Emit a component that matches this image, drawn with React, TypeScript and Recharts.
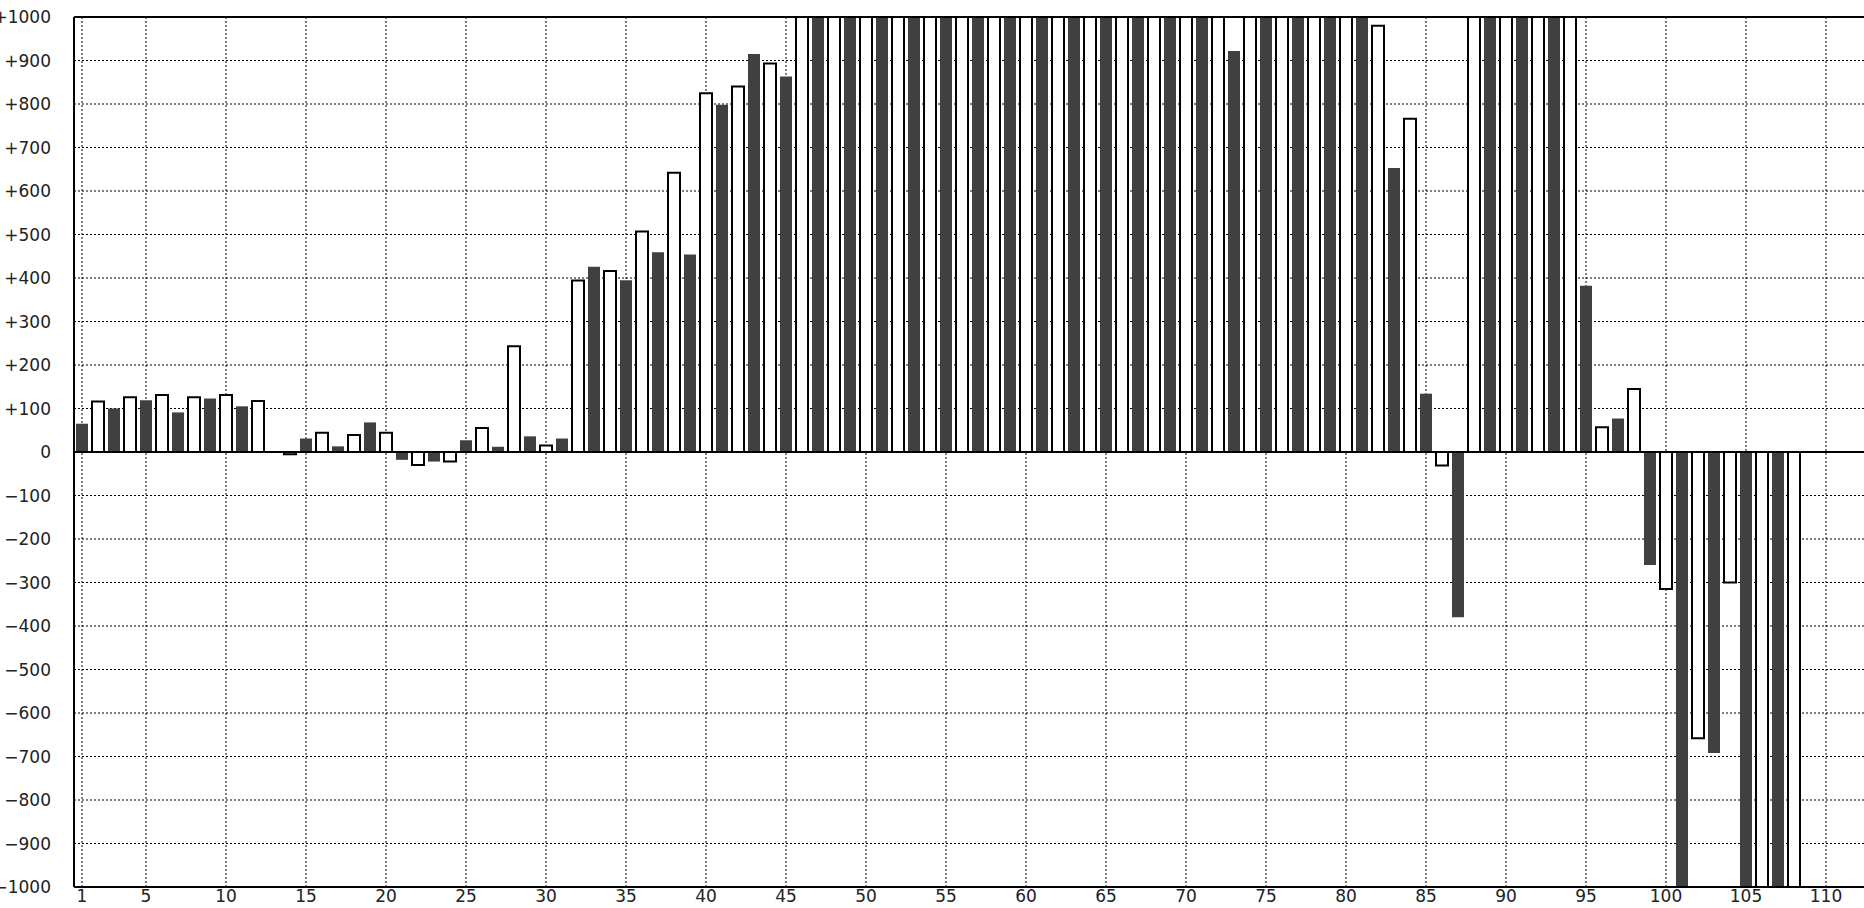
import React from 'react';
import { BarChart, Bar, Cell, XAxis, YAxis, CartesianGrid, ReferenceLine } from 'recharts';

// categories 1..112 (the last few are empty)
const categories = [
  1, 2, 3, 4, 5, 6, 7, 8, 9, 10, 11, 12, 13, 14, 15, 16, 17, 18, 19, 20,
  21, 22, 23, 24, 25, 26, 27, 28, 29, 30, 31, 32, 33, 34, 35, 36, 37, 38, 39, 40,
  41, 42, 43, 44, 45, 46, 47, 48, 49, 50, 51, 52, 53, 54, 55, 56, 57, 58, 59, 60,
  61, 62, 63, 64, 65, 66, 67, 68, 69, 70, 71, 72, 73, 74, 75, 76, 77, 78, 79, 80,
  81, 82, 83, 84, 85, 86, 87, 88, 89, 90, 91, 92, 93, 94, 95, 96, 97, 98, 99, 100,
  101, 102, 103, 104, 105, 106, 107, 108, 109, 110, 111, 112,
];

// values above +1000 / below -1000 run off the plot and are only estimates
const values: (number | null)[] = [
  65, 116, 100, 126, 119, 131, 91, 126, 123, 131, 105, 117, 0, -5, 31, 44, 13, 39, 68, 44,
  -18, -30, -22, -22, 27, 55, 12, 243, 36, 15, 31, 394, 426, 416, 395, 507, 459, 642, 454, 825,
  798, 840, 915, 893, 863, 1120, 1180, 1150, 1210, 1240, 1190, 1260, 1230, 1280, 1250, 1300, 1270, 1240, 1310, 1290,
  1260, 1230, 1270, 1300, 1250, 1220, 1180, 1200, 1150, 1130, 1160, 1090, 922, 1080, 1120, 1150, 1100, 1070, 1060, 1040,
  1030, 980, 653, 766, 134, -31, -380, 1100, 1150, 1180, 1200, 1160, 1120, 1080, 382, 57, 77, 145, -260, -315,
  -1080, -658, -692, -300, -1150, -1200, -1250, -1300, null, null, null, null,
];

const xTicks = [1, 5, 10, 15, 20, 25, 30, 35, 40, 45, 50, 55, 60, 65, 70, 75, 80, 85, 90, 95, 100, 105, 110];
const yTicks = [
  -1000, -900, -800, -700, -600, -500, -400, -300, -200, -100, 0,
  100, 200, 300, 400, 500, 600, 700, 800, 900, 1000,
];

const data = categories.map((c, i) => ({ c, v: values[i] }));

const fmtY = (v: number) => (v > 0 ? `+${v}` : v < 0 ? `\u2212${Math.abs(v)}` : '0');

const tickStyle = { fontFamily: 'DejaVu Sans', fontSize: 17, fill: '#222' };

export default function App() {
  return (
    <div style={{ position: 'absolute', left: 0, top: 0, width: 1864, height: 908, overflow: 'hidden', background: '#fff' }}>
      <BarChart
        width={1866}
        height={908}
        data={data}
        margin={{ top: 17, right: 0, bottom: 1, left: 0 }}
      >
        <CartesianGrid stroke="#000" strokeDasharray="2 2" />
        <XAxis
          dataKey="c"
          ticks={xTicks}
          interval={0}
          height={20}
          tickLine={false}
          tickSize={0}
          tickMargin={3}
          axisLine={{ stroke: '#000', strokeWidth: 2 }}
          tick={tickStyle}
        />
        <YAxis
          type="number"
          domain={[-1000, 1000]}
          allowDataOverflow
          ticks={yTicks}
          interval={0}
          width={74}
          tickLine={false}
          tickSize={0}
          tickMargin={23}
          tickFormatter={fmtY}
          axisLine={{ stroke: '#000', strokeWidth: 2 }}
          tick={tickStyle}
        />
        <Bar dataKey="v" barSize={12} isAnimationActive={false}>
          {data.map((d) =>
            d.c % 2 === 1 ? (
              <Cell key={d.c} fill="#404040" stroke="none" />
            ) : (
              <Cell key={d.c} fill="#fff" stroke="#000" strokeWidth={2} />
            )
          )}
        </Bar>
        <ReferenceLine y={0} stroke="#000" strokeWidth={2} />
        <ReferenceLine y={1000} stroke="#000" strokeWidth={2} />
      </BarChart>
    </div>
  );
}
